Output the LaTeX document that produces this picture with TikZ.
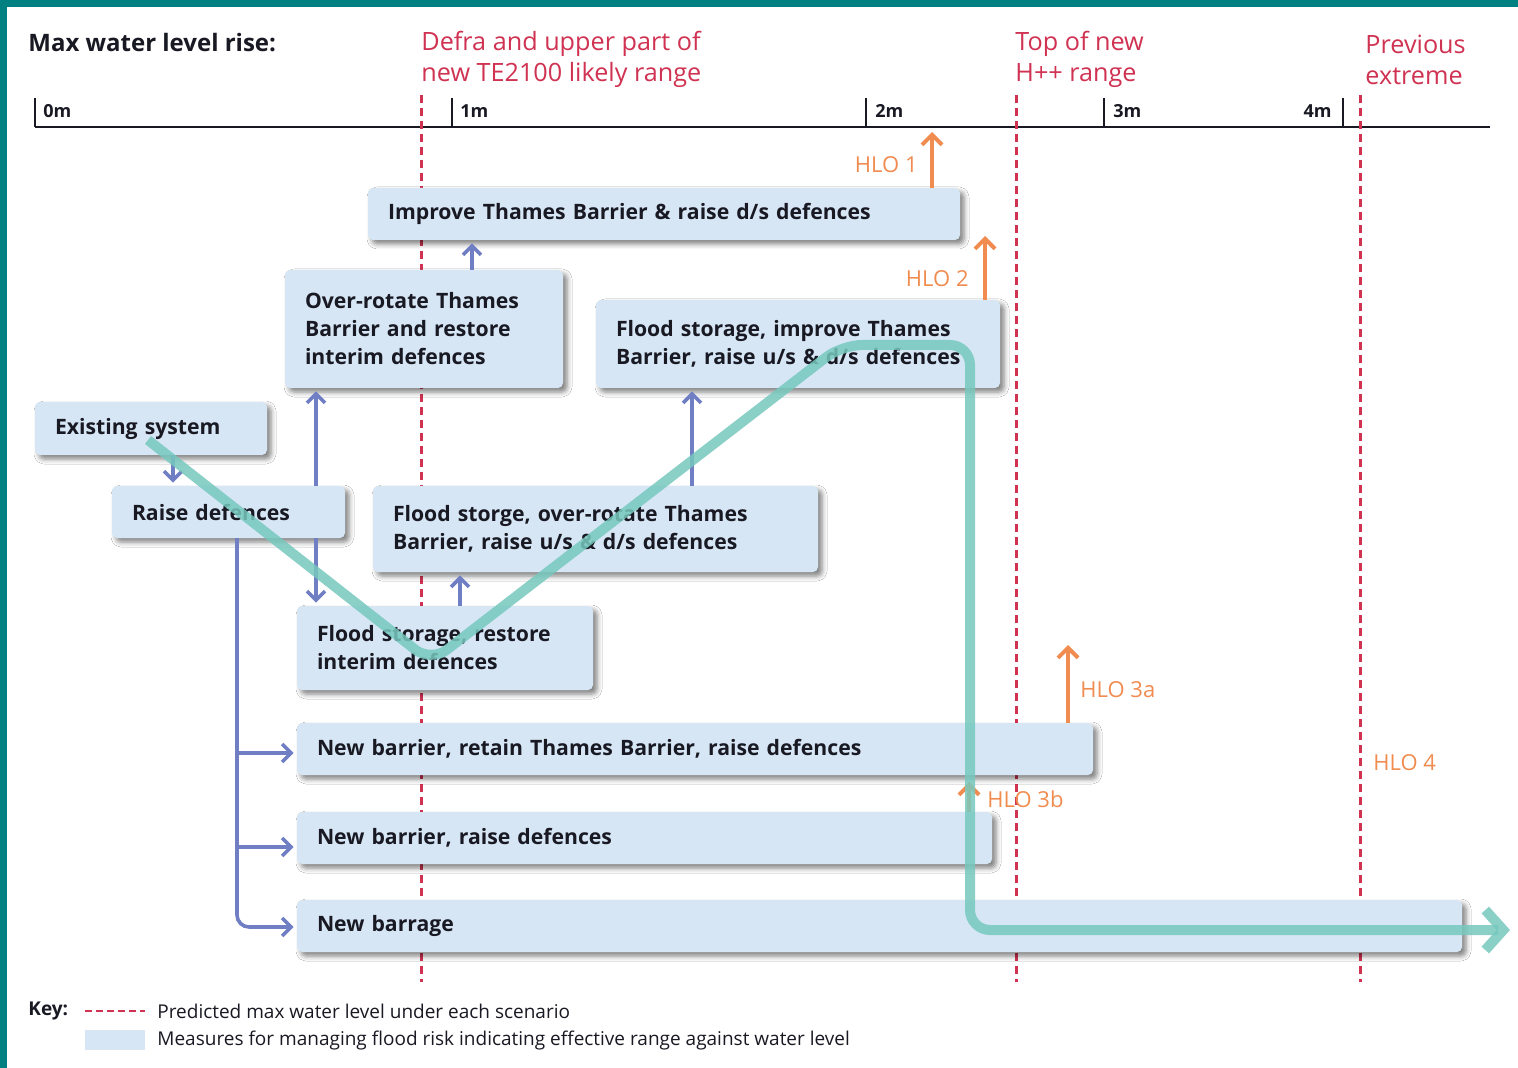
\documentclass[tikz,border=0pt]{standalone}
\usepackage{fontspec}
\setmainfont{Open Sans}
\usetikzlibrary{arrows.meta,shadows.blur}
\definecolor{frame}{RGB}{0,128,128}
\definecolor{boxblue}{RGB}{214,230,245}
\definecolor{linkblue}{RGB}{112,126,196}
\definecolor{hlo}{RGB}{240,140,80}
\definecolor{level}{RGB}{208,50,82}
\definecolor{route}{RGB}{118,200,190}
\definecolor{ink}{RGB}{25,25,35}

\begin{document}
\begin{tikzpicture}[x=0.5pt,y=-0.5pt,
  measure/.style={fill=boxblue, rounded corners=2.5pt, inner sep=0pt, text=ink,
    font=\bfseries\fontsize{10.6}{14}\selectfont, align=left,
    blur shadow={shadow xshift=2pt, shadow yshift=-2pt, shadow blur radius=2.5pt, shadow opacity=50}},
  link/.style={draw=linkblue, line width=1.8pt, -{Straight Barb[length=4.5pt,width=9pt]}, shorten >=1.5pt},
  hloarrow/.style={draw=hlo, line width=2pt, -{Straight Barb[length=5pt,width=10pt]}},
  hlotext/.style={text=hlo, font=\fontsize{11}{12}\selectfont, inner sep=0pt},
  levelline/.style={draw=level, line width=1.5pt, dash pattern=on 4pt off 2.5pt},
  heading/.style={text=level, font=\fontsize{12.6}{15.5}\selectfont, align=left, inner sep=0pt, anchor=west},
  scalelabel/.style={font=\bfseries\fontsize{9}{10}\selectfont, inner sep=0pt, text=ink},
  keytext/.style={font=\fontsize{9.5}{11}\selectfont, anchor=west, inner sep=0pt, text=ink},
  route/.style={draw=route, draw opacity=0.85, line width=5pt, rounded corners=10pt,
    -{Straight Barb[length=9pt,width=20pt]}}
]
\useasboundingbox (0,0) rectangle (1518,1068);
\fill[white] (0,0) rectangle (1518,1068);
% frame bands
\fill[frame] (0,0) rectangle (1518,7);
\fill[frame] (0,0) rectangle (7,1068);

% headings
\node[font=\bfseries\fontsize{12}{14}\selectfont, anchor=west, inner sep=0pt, text=ink] (title) at (28,43) {Max water level rise:};
\node[heading] (h1) at (421,59.5) {Defra and upper part of\\new TE2100 likely range};
\node[heading] (h2) at (1015,59.5) {Top of new\\H++ range};
\node[heading] (h3) at (1365,59.5) {Previous\\extreme};

% scale
\draw[line width=1pt, ink] (35,127) -- (1490,127);
\foreach \tx in {35,452,866,1104,1343} \draw[line width=1pt, ink] (\tx,98) -- (\tx,127);
\node[scalelabel, anchor=west] (s0) at (43,111) {0m};
\node[scalelabel, anchor=west] (s1) at (460,111) {1m};
\node[scalelabel, anchor=west] (s2) at (875,111) {2m};
\node[scalelabel, anchor=west] (s3) at (1113,111) {3m};
\node[scalelabel, anchor=east] (s4) at (1332,111) {4m};

% predicted water levels
\draw[levelline] (421,95) -- (421,982);
\draw[levelline] (1016,95) -- (1016,982);
\draw[levelline] (1360,95) -- (1360,982);

% measures
\node[measure, minimum width=296pt, minimum height=26pt, text width=276pt] (b1) at (664,214)
  {Improve Thames Barrier \& raise d/s defences};
\node[measure, minimum width=139pt, minimum height=59pt, text width=119pt] (b2) at (424,329)
  {Over-rotate Thames\\Barrier and restore\\interim defences};
\node[measure, minimum width=202pt, minimum height=44pt, text width=182pt] (b3) at (798,344)
  {Flood storage, improve Thames\\Barrier, raise u/s \& d/s defences};
\node[measure, minimum width=116pt, minimum height=26.5pt, text width=96pt] (b4) at (151,428.5)
  {Existing system};
\node[measure, minimum width=116.5pt, minimum height=26pt, text width=96.5pt] (b5) at (228.5,512)
  {Raise defences};
\node[measure, minimum width=222.5pt, minimum height=43pt, text width=202.5pt] (b6) at (595.5,529)
  {Flood storge, over-rotate Thames\\Barrier, raise u/s \& d/s defences};
\node[measure, minimum width=148pt, minimum height=42pt, text width=128pt] (b7) at (445,648)
  {Flood storage, restore\\interim defences};
\node[measure, minimum width=398pt, minimum height=26pt, text width=378pt] (b8) at (695,749)
  {New barrier, retain Thames Barrier, raise defences};
\node[measure, minimum width=347.5pt, minimum height=26pt, text width=327.5pt] (b9) at (644.5,838)
  {New barrier, raise defences};
\node[measure, minimum width=582.5pt, minimum height=26pt, text width=562.5pt] (b10) at (879.5,926)
  {New barrage};

% adaptation links
\draw[link] (b4.south -| 173,0) -- (b5.north -| 173,0);
\draw[link] (b5.north -| 316,0) -- (b2.south -| 316,0);
\draw[link] (b5.south -| 316,0) -- (b7.north -| 316,0);
\draw[link] (b2.north -| 472,0) -- (b1.south -| 472,0);
\draw[link] (b7.north -| 460,0) -- (b6.south -| 460,0);
\draw[link] (b6.north -| 692,0) -- (b3.south -| 692,0);
\draw[link] (b5.south -| 237,0) |- (b8.west |- 0,753);
\draw[link] (b5.south -| 237,0) |- (b9.west |- 0,847);
\draw[link, rounded corners=6pt] (b5.south -| 237,0) |- (b10.west |- 0,927);

% high level options
\coordinate (t1) at (932,132);
\coordinate (t2) at (985,236);
\coordinate (t3a) at (1068,645);
\coordinate (t3b) at (969,782);
\draw[hloarrow] (b1.north -| t1) -- (t1);
\draw[hloarrow] (b3.north -| t2) -- (t2);
\draw[hloarrow] (b8.north -| t3a) -- (t3a);
\draw[hloarrow] (b9.north -| t3b) -- (t3b);
\node[hlotext, anchor=east] (l1) at (918,165) {HLO 1};
\node[hlotext, anchor=east] (l2) at (969,279) {HLO 2};
\node[hlotext, anchor=west] (l3a) at (1080,690) {HLO 3a};
\node[hlotext, anchor=west] (l3b) at (987,799) {HLO 3b};
\node[hlotext, anchor=west] (l4) at (1373,763) {HLO 4};

% example route
\coordinate (r0) at (148,440);
\coordinate (r1) at (431,662);
\coordinate (r2) at (842,345);
\coordinate (r3) at (970,345);
\coordinate (r4) at (970,930);
\coordinate (r5) at (1510,930);
\draw[route] (r0) -- (r1) -- (r2) -- (r3) -- (r4) -- (r5);

% key
\node[font=\bfseries\fontsize{9.5}{11}\selectfont, anchor=west, inner sep=0pt, text=ink] (key) at (28,1011) {Key:};
\draw[draw=level, line width=1.2pt, dash pattern=on 3.5pt off 2pt] (85,1011) -- (145,1011);
\node[keytext] (k1) at (157,1011) {Predicted max water level under each scenario};
\fill[boxblue] (85,1030) rectangle (145,1050);
\node[keytext] (k2) at (157,1041)
  {Measures for managing flood risk indicating effective range against water level};
\end{tikzpicture}
\end{document}
